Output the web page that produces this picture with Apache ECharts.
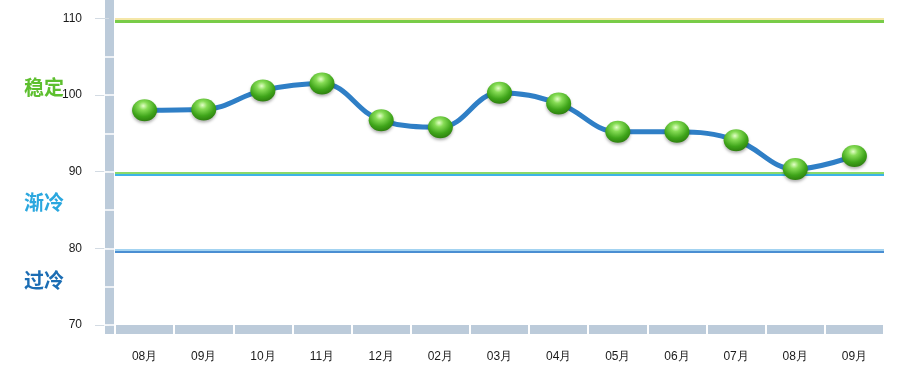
<!DOCTYPE html>
<html>
<head>
<meta charset="utf-8">
<script src="https://cdn.jsdelivr.net/npm/echarts@6/dist/echarts.min.js"></script>
<style>
html,body{margin:0;padding:0;background:#fff;}
#chart{width:902px;height:384px;}
</style>
</head>
<body>
<div id="chart"></div>
<script>
// ---- data ----
var categories = ['08月','09月','10月','11月','12月','02月','03月','04月','05月','06月','07月','08月','09月'];
var values = [98.0, 98.1, 100.6, 101.5, 96.7, 95.8, 100.3, 98.9, 95.2, 95.2, 94.1, 90.35, 92.05];
var yTickValues = [70, 80, 90, 100, 110];
var yGapValues = [70, 75, 80, 85, 90, 95, 100, 105];
var zoneNames = ['稳定', '渐冷', '过冷'];
var thresholdValues = [109.9, 109.6, 89.83, 89.57, 79.82, 79.55];
var thresholdColors = ['#f5e7a8', '#79cc48', '#8ad96a', '#3db3e8', '#a3d3f1', '#4a8ed2'];

var chart = echarts.init(document.getElementById('chart'));
var barColor = '#bccbda';

var markData = thresholdValues.map(function (v, i) {
  return { yAxis: v, lineStyle: { color: thresholdColors[i], width: (i === 1 ? 3 : 2), type: 'solid' } };
});

var option = {
  animation: false,
  backgroundColor: '#ffffff',
  title: [
    { text: zoneNames[0], left: 19, top: 72, textStyle: { color: '#5dbf2e', fontSize: 20, fontWeight: 'bold', fontFamily: 'Noto Sans CJK SC' } },
    { text: zoneNames[1], left: 19, top: 187, textStyle: { color: '#2aa7df', fontSize: 20, fontWeight: 'bold', fontFamily: 'Noto Sans CJK SC' } },
    { text: zoneNames[2], left: 19, top: 265, textStyle: { color: '#1b6db4', fontSize: 20, fontWeight: 'bold', fontFamily: 'Noto Sans CJK SC' } }
  ],
  grid: { left: 115, right: 18, top: 0, bottom: 50, containLabel: false },
  xAxis: [
    {
      type: 'category', data: categories, boundaryGap: true, position: 'bottom', offset: -4.5,
      axisLine: { show: true, lineStyle: { color: barColor, width: 9, cap: 'butt' } },
      axisTick: { show: false },
      axisLabel: { color: '#1a1a1a', fontSize: 12, fontFamily: 'Liberation Sans, Arial', margin: 21 },
      splitLine: { show: false }
    },
    {
      type: 'category', data: categories, boundaryGap: true, position: 'bottom', offset: -9,
      axisLine: { show: false },
      axisTick: { show: true, length: 9, lineStyle: { color: '#ffffff', width: 2 } },
      axisLabel: { show: false },
      splitLine: { show: false }
    }
  ],
  yAxis: [
    {
      type: 'value', min: 68.83, max: 112.39, position: 'left', offset: 6,
      axisLine: { show: true, lineStyle: { color: barColor, width: 9, cap: 'butt' } },
      axisTick: { show: true, length: 14, customValues: yTickValues, lineStyle: { color: '#d3dbe3', width: 1 } },
      axisLabel: { customValues: yTickValues, color: '#1a1a1a', fontSize: 12, fontFamily: 'Liberation Sans, Arial', margin: 27 },
      splitLine: { show: false }
    },
    {
      type: 'value', min: 68.83, max: 112.39, position: 'left', offset: 1,
      axisLine: { show: false },
      axisTick: { show: true, length: 10, customValues: yGapValues, lineStyle: { color: '#ffffff', width: 1.5 } },
      axisLabel: { show: false },
      splitLine: { show: false }
    }
  ],
  series: [
    {
      type: 'line', data: [], silent: true, symbol: 'none',
      markLine: { silent: true, symbol: 'none', label: { show: false }, data: markData, animation: false }
    },
    {
      type: 'line', data: values, smooth: 0.4,
      lineStyle: { color: '#2f7fc6', width: 5 },
      symbol: 'circle', symbolSize: [25, 22],
      itemStyle: {
        color: {
          type: 'radial', x: 0.45, y: 0.3, r: 0.75,
          colorStops: [
            { offset: 0, color: '#e4ffc8' },
            { offset: 0.25, color: '#86dc55' },
            { offset: 0.65, color: '#3fa51a' },
            { offset: 1, color: '#2a780c' }
          ]
        },
        shadowBlur: 3, shadowColor: 'rgba(0,0,0,0.3)', shadowOffsetY: 2
      },
      z: 5
    }
  ]
};
chart.setOption(option);
</script>
</body>
</html>
